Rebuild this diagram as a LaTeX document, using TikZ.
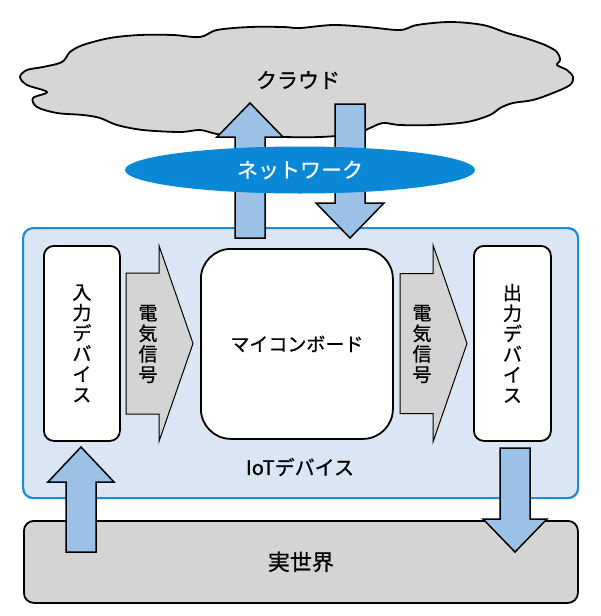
\documentclass[tikz,border=0pt]{standalone}
\usepackage{fontspec}
\setmainfont{Noto Sans CJK JP}[FakeBold=0.8]
\usetikzlibrary{shapes.geometric}
\definecolor{cloudgray}{HTML}{D6D6D6}
\definecolor{netblue}{HTML}{0A88D6}
\definecolor{arrowblue}{HTML}{9BC2E6}
\definecolor{iotfill}{HTML}{DAE6F4}
\definecolor{iotborder}{HTML}{1A8CE0}
\definecolor{siggray}{HTML}{D4D4D4}
\newcommand{\vblockarrow}[6]{%
  \draw[blockarrow] ({#1-#5},#2) -- ({#1-#5},#3) -- ({#1-#6},#3) -- (#1,#4)
    -- ({#1+#6},#3) -- ({#1+#5},#3) -- ({#1+#5},#2) -- cycle;}
\newcommand{\hblockarrow}[6]{%
  \draw[sigarrow] (#2,{#1-#5}) -- (#3,{#1-#5}) -- (#3,{#1-#6}) -- (#4,#1)
    -- (#3,{#1+#6}) -- (#3,{#1+#5}) -- (#2,{#1+#5}) -- cycle;}
\tikzset{
  blockarrow/.style={fill=arrowblue, draw=black, line width=1.5pt, line join=miter},
  sigarrow/.style={fill=siggray, draw=black, line width=1pt, line join=miter},
  devbox/.style={fill=white, draw=black, line width=1.8pt, rounded corners=10pt},
  lbl/.style={font=\fontsize{21}{21}\selectfont, inner sep=0pt},
  vlbl/.style={font=\fontsize{19}{20.5}\selectfont, align=center, inner sep=0pt},
}
\begin{document}
\begin{tikzpicture}[x=1pt,y=-1pt]
\path[use as bounding box] (0,0) rectangle (600,616);
% cloud
\draw[fill=cloudgray, line width=1.8pt, line join=round]
  plot[smooth cycle, tension=0.55] coordinates {
  (20,77) (27,70) (43,67) (62,62) (70,52) (83,45) (110,38) (140,35) (173,35)
  (200,37) (217,30) (250,27) (283,27) (300,28) (333,25) (367,27) (400,30)
  (417,25) (450,22) (483,25) (507,33) (525,38) (545,45) (557,52) (560,60)
  (557,65) (567,70) (573,77) (570,85) (553,93) (533,100) (513,103) (500,108)
  (490,115) (467,122) (433,125) (400,125) (383,123) (370,128) (355,134)
  (320,137) (280,137) (240,136) (217,134) (200,130) (180,132) (143,130)
  (117,125) (100,118) (83,115) (57,113) (37,107) (33,98) (47,92) (27,85)};
\node[lbl] (cloud) at (298,80) {クラウド};
% IoT device frame and real world
\node[draw=iotborder, fill=iotfill, line width=2.2pt, rounded corners=10pt,
  minimum width=555pt, minimum height=270pt, anchor=north west, inner sep=0pt]
  (iot) at (22,227) {};
\node[draw=black, fill=siggray, line width=1.8pt, rounded corners=10pt,
  minimum width=554pt, minimum height=82pt, anchor=north west, inner sep=0pt]
  (world) at (23,520) {};
\node[lbl, font=\fontsize{22}{22}\selectfont] at (world.center) {実世界};
\node[lbl, font=\fontsize{20}{20}\selectfont] (iotlbl) at (300,467) {IoTデバイス};
% arrows cloud <-> device
\vblockarrow{250}{238}{137}{103}{15}{33}
\vblockarrow{350}{104}{203}{238}{15}{34}
% network
\node[ellipse, fill=netblue, minimum width=350pt, minimum height=47pt, inner sep=0pt]
  (net) at (300,170) {};
\node[lbl, text=white] at (net.center) {ネットワーク};
% devices
\node[devbox, minimum width=76pt, minimum height=195pt, anchor=north west, inner sep=0pt]
  (in) at (43,245) {};
\node[vlbl] at (in.center) {入\\力\\デ\\バ\\イ\\ス};
\node[devbox, rounded corners=30pt, minimum width=192pt, minimum height=190pt,
  anchor=north west, inner sep=0pt] (mcu) at (200,248) {};
\node[lbl, font=\fontsize{19}{19}\selectfont] at (mcu.center) {マイコンボード};
\node[devbox, minimum width=77pt, minimum height=195pt, anchor=north west, inner sep=0pt]
  (out) at (473,245) {};
\node[vlbl] at (out.center) {出\\力\\デ\\バ\\イ\\ス};
% signal arrows
\hblockarrow{343.5}{126}{159}{193}{70.5}{98}
\node[vlbl] (sig1) at (148,344) {電\\気\\信\\号};
\hblockarrow{343.5}{400}{433}{467}{70}{98.5}
\node[vlbl] (sig2) at (422,344) {電\\気\\信\\号};
% arrows device <-> real world
\vblockarrow{81}{552}{482}{447}{15}{33}
\vblockarrow{515}{448}{519}{552}{15}{32}
\end{tikzpicture}
\end{document}
